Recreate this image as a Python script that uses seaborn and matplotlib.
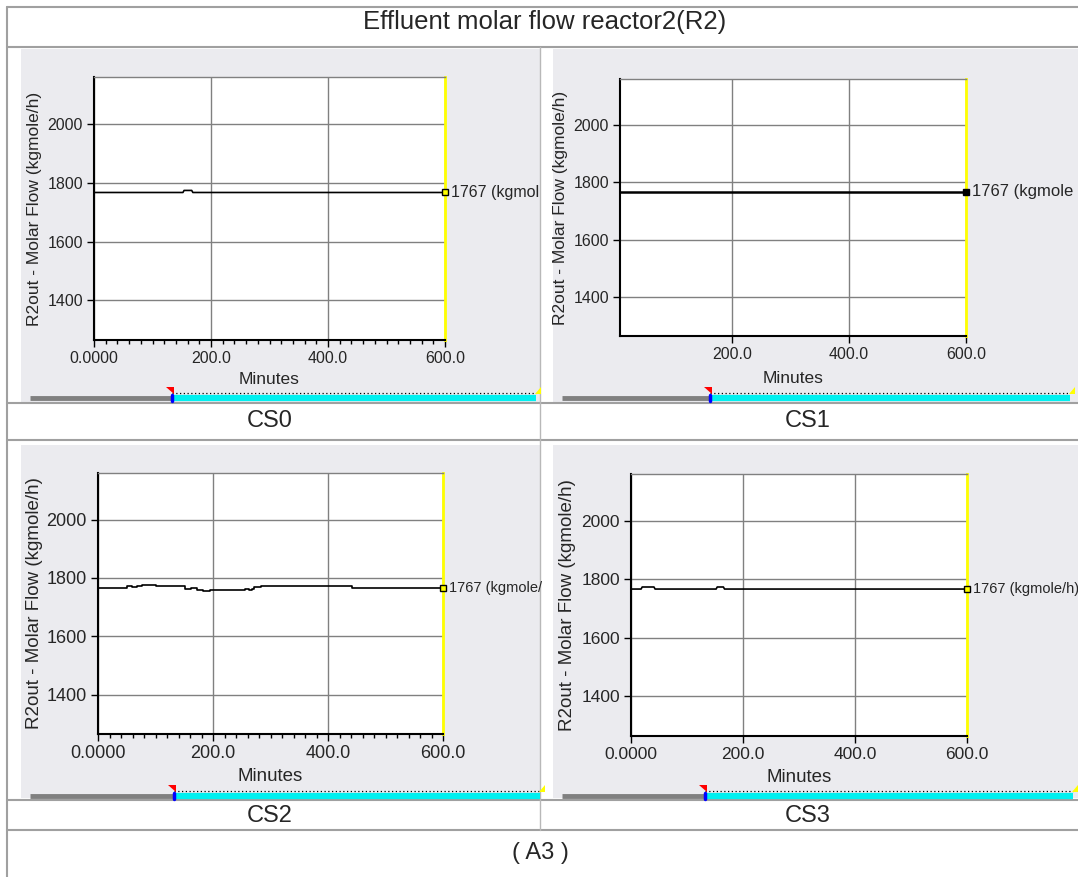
import matplotlib
matplotlib.use("Agg")
import matplotlib.pyplot as plt
import matplotlib.transforms as mtransforms
from matplotlib.patches import Rectangle, Polygon
from matplotlib.lines import Line2D
from matplotlib.ticker import MultipleLocator
import pandas as pd
import seaborn as sns

# (minutes, kgmole/h)
cs0_t = [0, 152, 154, 167, 169, 600]
cs0_v = [1767, 1767, 1774, 1774, 1767, 1767]

cs1_t = [8, 600]
cs1_v = [1767, 1767]

cs2_t = [0, 50, 59, 67, 76, 101, 152, 162, 173, 182, 195, 256, 262, 268, 272, 283, 326, 441, 600]
cs2_v = [1764, 1771, 1768, 1772, 1776, 1773, 1761, 1765, 1760, 1756, 1759, 1762, 1759, 1762, 1768, 1774, 1772, 1767, 1767]

cs3_t = [0, 18, 20, 41, 43, 152, 154, 165, 167, 600]
cs3_v = [1767, 1767, 1774, 1774, 1767, 1767, 1774, 1774, 1767, 1767]

case_names = ["CS0", "CS1", "CS2", "CS3"]
# end readouts as they show in the screenshot cells (cut by the cell edge)
end_labels = ["1767 (kgmol", "1767 (kgmole", "1767 (kgmole/", "1767 (kgmole/h)"]
ylabel = "R2out - Molar Flow (kgmole/h)"
xlabel = "Minutes"
x_ticks = [0, 200, 400, 600]
x_ticklabels = ["0.0000", "200.0", "400.0", "600.0"]
y_ticks = [1400, 1600, 1800, 2000]
title = "Effluent molar flow reactor2(R2)"
footer = "( A3 )"

W, H = 1078, 877
sns.set_style("white")
plt.rcParams['font.family'] = ['Liberation Sans', 'DejaVu Sans']

fig = plt.figure(figsize=(W / 100, H / 100), dpi=100)
fig.patch.set_facecolor("white")

def fx(x):
    return x / W

def fy(y):
    return 1 - y / H

def hline(y, x0, x1, **kw):
    fig.add_artist(Line2D([fx(x0), fx(x1)], [fy(y), fy(y)], transform=fig.transFigure, **kw))

def vline(x, y0, y1, **kw):
    fig.add_artist(Line2D([fx(x), fx(x)], [fy(y0), fy(y1)], transform=fig.transFigure, **kw))

def rect(x0, y0, x1, y1, **kw):
    fig.add_artist(Rectangle((fx(x0), fy(y1)), fx(x1) - fx(x0), fy(y0) - fy(y1),
                             transform=fig.transFigure, **kw))

bg = "#EBEBEF"
# cell backgrounds of the simulator screenshots
rect(21, 49, 540, 402, facecolor=bg, edgecolor="none", zorder=0)
rect(553, 49, 1078, 402, facecolor=bg, edgecolor="none", zorder=0)
rect(21, 445, 540, 798, facecolor=bg, edgecolor="none", zorder=0)
rect(553, 445, 1078, 798, facecolor=bg, edgecolor="none", zorder=0)

# table lines
tc = "#A0A0A0"
for yy in [7, 47, 403, 440, 800, 830]:
    hline(yy, 7, 1078, color=tc, lw=1.5, zorder=1)
vline(7, 7, 877, color=tc, lw=1.5, zorder=1)
vline(540, 47, 830, color="#B8B8B8", lw=1, zorder=1)

fig.text(fx(545), fy(22), title, ha="center", va="center", fontsize=18.5)
fig.text(fx(540), fy(853), footer, ha="center", va="center", fontsize=17)
label_pos = [(270, 421), (808, 421), (270, 816), (808, 816)]
for name, (lx, ly) in zip(case_names, label_pos):
    fig.text(fx(lx), fy(ly), name, ha="center", va="center", fontsize=17)

panels = [
    dict(t=cs0_t, v=cs0_v, box=(94, 77, 445, 340), xmin=0, tick_fs=11.5,
         lab_fs=12.5, ann_fs=11.5, lw=1.2, minor=True, mfc="#FFFF00", ylab_x=42, xlab_y=372,
         scroll=(30, 172, 536, 398)),
    dict(t=cs1_t, v=cs1_v, box=(620, 79, 966, 336), xmin=8, tick_fs=11.5,
         lab_fs=12.5, ann_fs=12, lw=1.8, minor=False, mfc="black", ylab_x=568, xlab_y=371,
         scroll=(562, 710, 1070, 398)),
    dict(t=cs2_t, v=cs2_v, box=(98, 473, 443, 734), xmin=0, tick_fs=13,
         lab_fs=13.5, ann_fs=10.5, lw=1.2, minor=True, mfc="#FFFF00", ylab_x=43, xlab_y=768,
         scroll=(30, 174, 540, 796)),
    dict(t=cs3_t, v=cs3_v, box=(631, 474, 967, 736), xmin=0, tick_fs=12.5,
         lab_fs=13.5, ann_fs=10.5, lw=1.2, minor=False, mfc="#FFFF00", ylab_x=576, xlab_y=769,
         scroll=(562, 705, 1073, 796)),
]

for i, p in enumerate(panels):
    x0, y0, x1, y1 = p["box"]
    ax = fig.add_axes([fx(x0), fy(y1), fx(x1) - fx(x0), fy(y0) - fy(y1)])
    ax.set_facecolor("white")
    df = pd.DataFrame({"Minutes": p["t"], "flow": p["v"]})
    if i == 2:
        sns.lineplot(data=df, x="Minutes", y="flow", ax=ax, color="black", lw=p["lw"],
                     estimator=None, drawstyle="steps-post")
    else:
        sns.lineplot(data=df, x="Minutes", y="flow", ax=ax, color="black", lw=p["lw"],
                     estimator=None)
    ax.plot([p["t"][-1]], [p["v"][-1]], marker="s", ms=5, mfc=p["mfc"], mec="black",
            mew=1, clip_on=False, zorder=5)

    ax.set_xticks(x_ticks)
    ax.set_xticklabels(x_ticklabels)
    ax.set_yticks(y_ticks)
    ax.set_xlim(p["xmin"], 600)
    ax.set_ylim(1265, 2160)
    if p["minor"]:
        ax.xaxis.set_minor_locator(MultipleLocator(20))
    ax.grid(True, which="major", color="#808080", lw=1)
    ax.tick_params(axis="both", which="major", direction="out", length=5, width=1,
                   color="black", labelsize=p["tick_fs"], pad=3, left=True, bottom=True)
    ax.tick_params(axis="x", which="minor", direction="out", length=3, width=1,
                   color="black", bottom=True)
    for s in ["left", "bottom"]:
        ax.spines[s].set_color("black")
        ax.spines[s].set_linewidth(1.5)
    ax.spines["top"].set_color("#808080")
    ax.spines["top"].set_linewidth(1)
    ax.spines["right"].set_color("#FFFF00")
    ax.spines["right"].set_linewidth(2)

    ax.set_ylabel(ylabel, fontsize=p["lab_fs"])
    ax.set_xlabel(xlabel, fontsize=p["lab_fs"])
    ax.yaxis.set_label_coords((p["ylab_x"] - x0) / (x1 - x0), 0.5)
    ax.xaxis.set_label_coords(0.5, -(p["xlab_y"] - y1) / (y1 - y0))

    # end-value readout next to the last point
    trans = mtransforms.offset_copy(ax.transData, fig=fig, x=6, y=0, units="dots")
    fig.text(p["t"][-1], p["v"][-1], end_labels[i], transform=trans, ha="left",
             va="center", fontsize=p["ann_fs"])

    # scroll bar under each trend
    gx0, split, gx1, sy = p["scroll"]
    hline(sy, gx0, split, color="#808080", lw=3.5, solid_capstyle="butt", zorder=2)
    hline(sy, split, gx1, color="#00F0F0", lw=4.5, solid_capstyle="butt", zorder=2)
    hline(sy - 5, split, gx1, color="black", lw=0.9, ls=(0, (1, 2)), zorder=2)
    vline(split, sy - 3, sy + 3, color="#0000FF", lw=2.5, zorder=3)
    fig.add_artist(Polygon([(fx(split - 6), fy(sy - 11)), (fx(split + 2), fy(sy - 11)),
                            (fx(split + 2), fy(sy - 4))], closed=True,
                           transform=fig.transFigure, facecolor="red", edgecolor="none", zorder=3))
    fig.add_artist(Polygon([(fx(gx1 - 1), fy(sy - 4)), (fx(gx1 + 5), fy(sy - 11)),
                            (fx(gx1 + 5), fy(sy - 4))], closed=True,
                           transform=fig.transFigure, facecolor="#FFFF00", edgecolor="none", zorder=3))

fig.savefig("out.png", dpi=100)
